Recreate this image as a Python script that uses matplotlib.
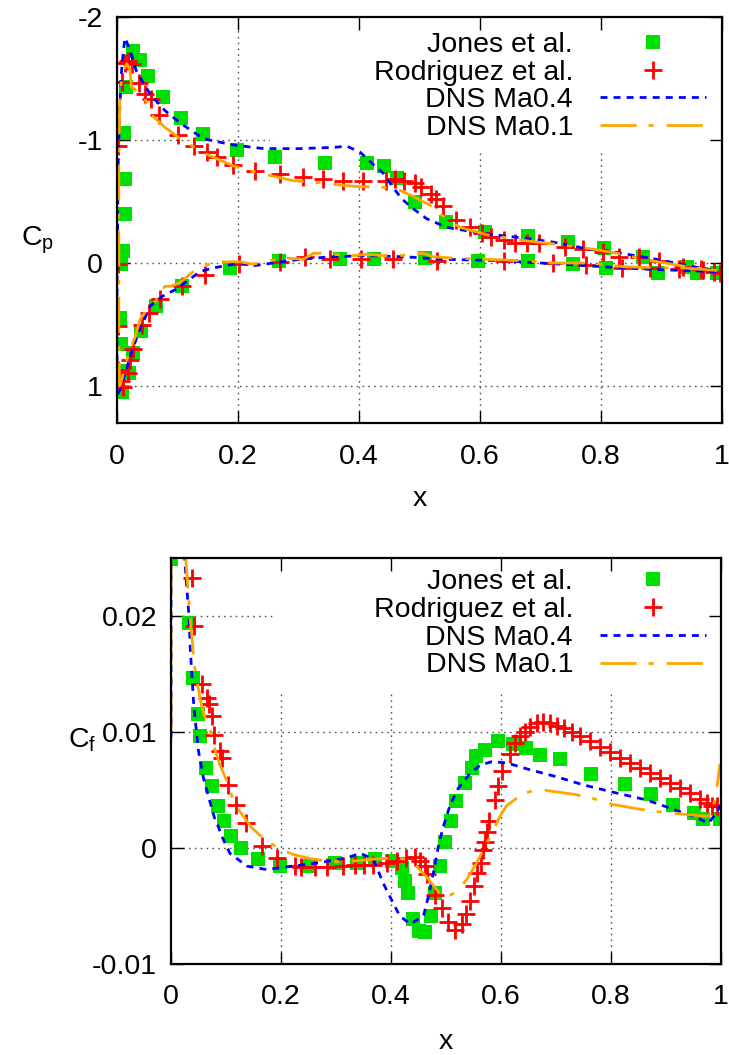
import matplotlib
matplotlib.use('Agg')
import matplotlib.pyplot as plt
from matplotlib.patches import Rectangle

plt.rcParams['font.family'] = ['Liberation Sans', 'DejaVu Sans']
plt.rcParams['mathtext.default'] = 'regular'
plt.rcParams['axes.unicode_minus'] = False

# ---------------- pressure coefficient ----------------
jones_cp_x = [0.013, 0.012, 0.015, 0.026, 0.038, 0.052, 0.076, 0.105, 0.142, 0.198, 0.261, 0.343,
              0.414, 0.441, 0.462, 0.493, 0.543, 0.608, 0.680, 0.746, 0.805, 0.870, 0.942, 0.991,
              0.013, 0.010, 0.006, 0.005, 0.006, 0.005, 0.008,
              0.020, 0.027, 0.039, 0.064, 0.107, 0.187, 0.268, 0.369, 0.424, 0.509, 0.597, 0.679,
              0.753, 0.809, 0.894, 0.958, 0.995]
jones_cp = [-0.68, -1.06, -1.43, -1.72, -1.65, -1.52, -1.35, -1.18, -1.05, -0.92, -0.86, -0.81,
            -0.81, -0.79, -0.69, -0.50, -0.33, -0.25, -0.22, -0.17, -0.12, -0.05, 0.03, 0.08,
            -0.40, -0.10, 0.01, 0.45, 0.66, 0.88, 1.05,
            0.89, 0.73, 0.55, 0.35, 0.19, 0.04, -0.02, -0.03, -0.03, -0.04, -0.02, -0.02,
            0.01, 0.04, 0.08, 0.08, 0.08]

rodr_cp_x = [0.002, 0.008, 0.013, 0.019, 0.024, 0.036, 0.046, 0.056, 0.070, 0.100, 0.128, 0.148,
             0.165, 0.192, 0.228, 0.269, 0.307, 0.341, 0.374, 0.407, 0.444, 0.460, 0.474, 0.493,
             0.503, 0.519, 0.528, 0.539, 0.561, 0.583, 0.603, 0.619, 0.639, 0.658, 0.677, 0.698,
             0.740, 0.771, 0.804, 0.830, 0.862, 0.896, 0.936, 0.966, 0.986, 0.997,
             0.002, 0.002, 0.002, 0.006, 0.010, 0.019, 0.021, 0.027, 0.042, 0.053, 0.071, 0.107,
             0.145, 0.202, 0.269, 0.311, 0.352, 0.404, 0.456, 0.529, 0.639, 0.720, 0.776, 0.834,
             0.881, 0.929, 0.969]
rodr_cp = [-0.95, -1.47, -1.63, -1.64, -1.62, -1.46, -1.37, -1.33, -1.20, -1.04, -0.95, -0.90,
           -0.86, -0.80, -0.75, -0.72, -0.70, -0.68, -0.67, -0.67, -0.67, -0.68, -0.67, -0.65,
           -0.62, -0.56, -0.52, -0.46, -0.35, -0.29, -0.24, -0.21, -0.19, -0.16, -0.16, -0.16,
           -0.13, -0.11, -0.09, -0.05, -0.05, -0.02, 0.03, 0.05, 0.07, 0.08,
           0.01, 0.51, 0.87, 0.96, 1.01, 0.89, 0.79, 0.70, 0.50, 0.41, 0.29, 0.19,
           0.10, 0.01, -0.01, -0.05, -0.03, -0.03, -0.03, -0.02, -0.02, 0.00, 0.02, 0.04,
           0.04, 0.05, 0.06]

# DNS curves: lower surface from trailing edge to leading edge, then upper surface
dns04_cp_x = [0.991, 0.931, 0.876, 0.837, 0.771, 0.700, 0.633, 0.539, 0.479, 0.413, 0.352, 0.302,
              0.258, 0.228, 0.203, 0.159, 0.137, 0.099, 0.075, 0.055, 0.035, 0.024, 0.012, 0.005,
              0.002, 0.000, 0.000, 0.001, 0.002, 0.004, 0.008, 0.013,
              0.020, 0.032, 0.055, 0.079, 0.104, 0.143, 0.192, 0.242, 0.302, 0.358, 0.380, 0.402,
              0.424, 0.440, 0.457, 0.471, 0.490, 0.512, 0.545, 0.605, 0.677, 0.721, 0.782, 0.809,
              0.892, 0.953, 0.991]
dns04_cp = [0.07, 0.06, 0.05, 0.04, 0.02, 0.00, -0.02, -0.03, -0.05, -0.06, -0.05, -0.03,
            0.00, 0.02, 0.00, 0.04, 0.07, 0.21, 0.27, 0.35, 0.57, 0.73, 0.92, 1.03,
            1.06, 0.90, 0.30, -0.30, -0.80, -1.20, -1.60, -1.83,
            -1.75, -1.56, -1.37, -1.24, -1.14, -1.01, -0.96, -0.93, -0.93, -0.94, -0.95, -0.90,
            -0.80, -0.73, -0.61, -0.52, -0.44, -0.36, -0.29, -0.24, -0.20, -0.17, -0.11, -0.10,
            -0.03, 0.03, 0.06]

dns01_cp_x = [0.991, 0.936, 0.903, 0.837, 0.782, 0.721, 0.666, 0.611, 0.556, 0.523, 0.506, 0.468,
              0.440, 0.413, 0.391, 0.358, 0.336, 0.325, 0.308, 0.281, 0.253, 0.225, 0.203, 0.176,
              0.143, 0.123, 0.104, 0.088, 0.079, 0.060, 0.043, 0.038, 0.030, 0.021, 0.013, 0.008,
              0.004, 0.003, 0.003, 0.003, 0.005, 0.010, 0.016, 0.021, 0.024,
              0.032, 0.043, 0.052, 0.060, 0.080, 0.110, 0.150, 0.192, 0.236, 0.291, 0.340, 0.377,
              0.402, 0.435, 0.468, 0.490, 0.517, 0.539, 0.567, 0.611, 0.677, 0.732, 0.765, 0.826,
              0.870, 0.942, 0.991]
dns01_cp = [0.06, 0.04, 0.04, 0.03, 0.00, 0.00, -0.02, -0.03, -0.04, -0.05, -0.08, -0.06,
            -0.06, -0.07, -0.06, -0.07, -0.08, -0.08, -0.03, -0.04, -0.02, 0.01, -0.01, -0.01,
            0.02, 0.08, 0.16, 0.19, 0.19, 0.34, 0.42, 0.46, 0.60, 0.71, 0.84, 0.95,
            1.00, 0.50, -0.20, -0.86, -1.40, -1.56, -1.62, -1.58, -1.43,
            -1.40, -1.36, -1.28, -1.19, -1.10, -0.99, -0.88, -0.79, -0.73, -0.67, -0.65, -0.63,
            -0.62, -0.62, -0.59, -0.54, -0.47, -0.38, -0.29, -0.23, -0.18, -0.15, -0.13, -0.08,
            -0.03, 0.03, 0.06]

# ---------------- skin friction coefficient ----------------
jones_cf_x = [0.000, 0.032, 0.040, 0.049, 0.053, 0.064, 0.074, 0.085, 0.097, 0.109, 0.127, 0.159,
              0.199, 0.247, 0.298, 0.338, 0.371, 0.401, 0.420, 0.425, 0.431, 0.440, 0.451, 0.462,
              0.472, 0.480, 0.489, 0.498, 0.509, 0.518, 0.535, 0.547, 0.555, 0.571, 0.595, 0.622,
              0.645, 0.671, 0.708, 0.763, 0.825, 0.872, 0.913, 0.950, 0.968, 0.998]
jones_cf = [0.0249, 0.0194, 0.0146, 0.0115, 0.0096, 0.0069, 0.0053, 0.0036, 0.0023, 0.0010, 0.0000, -0.0010,
            -0.0016, -0.0016, -0.0013, -0.0013, -0.0010, -0.0012, -0.0018, -0.0029, -0.0039, -0.0062, -0.0072, -0.0073,
            -0.0059, -0.0039, -0.0016, 0.0005, 0.0023, 0.0040, 0.0056, 0.0069, 0.0079, 0.0084, 0.0092, 0.0089,
            0.0086, 0.0080, 0.0076, 0.0063, 0.0055, 0.0046, 0.0037, 0.0030, 0.0025, 0.0025]

rodr_cf_x = [0.039, 0.042, 0.057, 0.065, 0.069, 0.074, 0.079, 0.089, 0.092, 0.104, 0.119, 0.136,
             0.165, 0.192, 0.225, 0.237, 0.262, 0.283, 0.313, 0.335, 0.350, 0.368, 0.392, 0.410,
             0.428, 0.443, 0.452, 0.462, 0.465, 0.480, 0.492, 0.503, 0.516, 0.529, 0.537, 0.544,
             0.551, 0.556, 0.563, 0.567, 0.571, 0.574, 0.578, 0.589, 0.595, 0.601, 0.616, 0.625,
             0.635, 0.644, 0.653, 0.665, 0.677, 0.689, 0.701, 0.714, 0.729, 0.744, 0.762, 0.780,
             0.798, 0.816, 0.835, 0.853, 0.871, 0.889, 0.907, 0.925, 0.944, 0.962, 0.974, 0.983,
             0.992, 1.000]
rodr_cf = [0.0232, 0.0191, 0.0141, 0.0129, 0.0124, 0.0113, 0.0097, 0.0083, 0.0077, 0.0054, 0.0037, 0.0021,
           0.0001, -0.0009, -0.0016, -0.0017, -0.0017, -0.0017, -0.0016, -0.0015, -0.0015, -0.0015, -0.0013, -0.0012,
           -0.0009, -0.0008, -0.0012, -0.0016, -0.0023, -0.0041, -0.0052, -0.0064, -0.0071, -0.0066, -0.0057, -0.0046,
           -0.0033, -0.0022, -0.0013, -0.0002, 0.0005, 0.0013, 0.0023, 0.0041, 0.0053, 0.0066, 0.0081, 0.0090,
           0.0096, 0.0100, 0.0104, 0.0107, 0.0108, 0.0107, 0.0105, 0.0103, 0.0100, 0.0096, 0.0092, 0.0087,
           0.0082, 0.0077, 0.0073, 0.0069, 0.0064, 0.0060, 0.0056, 0.0051, 0.0047, 0.0042, 0.0038, 0.0036,
           0.0036, 0.0037]

dns04_cf_x = [0.000, 0.000, 0.012, 0.025, 0.029, 0.033, 0.035, 0.038, 0.041, 0.044, 0.050, 0.059,
              0.071, 0.080, 0.086, 0.092, 0.107, 0.138, 0.174, 0.222, 0.271, 0.319, 0.344, 0.368,
              0.386, 0.404, 0.416, 0.435, 0.459, 0.468, 0.477, 0.486, 0.495, 0.507, 0.522, 0.529,
              0.544, 0.562, 0.583, 0.610, 0.653, 0.701, 0.750, 0.810, 0.865, 0.913, 0.950, 0.977,
              0.992, 0.998]
dns04_cf = [0.0095, 0.0300, 0.0320, 0.0248, 0.0222, 0.0197, 0.0171, 0.0148, 0.0125, 0.0110, 0.0083, 0.0060,
            0.0039, 0.0024, 0.0018, 0.0010, -0.0005, -0.0016, -0.0019, -0.0016, -0.0013, -0.0009, -0.0005, -0.0010,
            -0.0031, -0.0048, -0.0059, -0.0066, -0.0059, -0.0042, -0.0022, 0.0001, 0.0018, 0.0036, 0.0051, 0.0055,
            0.0064, 0.0071, 0.0074, 0.0073, 0.0067, 0.0061, 0.0054, 0.0047, 0.0041, 0.0033, 0.0027, 0.0021,
            0.0030, 0.0036]

dns01_cf_x = [0.000, 0.000, 0.015, 0.027, 0.030, 0.035, 0.039, 0.042, 0.053, 0.061, 0.071, 0.079,
              0.089, 0.101, 0.111, 0.125, 0.147, 0.163, 0.180, 0.198, 0.222, 0.240, 0.259, 0.295,
              0.325, 0.368, 0.404, 0.428, 0.446, 0.464, 0.486, 0.501, 0.519, 0.537, 0.556, 0.571,
              0.586, 0.598, 0.610, 0.641, 0.671, 0.701, 0.731, 0.762, 0.804, 0.853, 0.901, 0.950,
              0.974, 0.983, 0.992, 0.998]
dns01_cf = [0.0102, 0.0300, 0.0320, 0.0248, 0.0228, 0.0197, 0.0176, 0.0158, 0.0128, 0.0113, 0.0102, 0.0086,
            0.0071, 0.0058, 0.0044, 0.0031, 0.0017, 0.0010, 0.0004, -0.0001, -0.0006, -0.0008, -0.0010, -0.0012,
            -0.0012, -0.0010, -0.0009, -0.0010, -0.0016, -0.0025, -0.0038, -0.0043, -0.0038, -0.0028, -0.0013, 0.0001,
            0.0015, 0.0027, 0.0036, 0.0047, 0.0050, 0.0048, 0.0046, 0.0043, 0.0037, 0.0033, 0.0030, 0.0028,
            0.0027, 0.0028, 0.0050, 0.0072]

labels = ['Jones et al.', 'Rodriguez et al.', 'DNS Ma0.4', 'DNS Ma0.1']
x_ticks = [0, 0.2, 0.4, 0.6, 0.8, 1]
x_ticklabels = ['0', '0.2', '0.4', '0.6', '0.8', '1']
cp_ticks = [-2, -1, 0, 1]
cp_ticklabels = ['-2', '-1', '0', '1']
cf_ticks = [-0.01, 0, 0.01, 0.02]
cf_ticklabels = ['-0.01', '0', '0.01', '0.02']

FS = 20.5
fig = plt.figure(figsize=(7.29, 10.55), dpi=100)
ax1 = fig.add_axes([0.1605, 0.5991, 0.8299, 0.3848])
ax2 = fig.add_axes([0.2346, 0.0867, 0.7545, 0.3848])


def draw(ax, jx, jy, rx, ry, bx, by, ox, oy):
    ax.plot(jx, jy, ls='none', marker='s', ms=10, mew=0, color='#00e000', label=labels[0], zorder=2)
    ax.plot(rx, ry, ls='none', marker='+', ms=13, mew=2.0, color='#ff0000', label=labels[1], zorder=2.1)
    ax.plot(bx, by, color='#0000ff', lw=2.0, dashes=(2.5, 2.2), label=labels[2], zorder=2.2)
    ax.plot(ox, oy, color='#ffa500', lw=2.0, dashes=(13, 4.3, 1.8, 4.7), label=labels[3], zorder=2.3)


def frame(ax, yticks, yticklabels, mask_x0):
    ax.set_xlim(0, 1)
    ax.set_xticks(x_ticks)
    ax.set_xticklabels(x_ticklabels)
    ax.set_yticks(yticks)
    ax.set_yticklabels(yticklabels)
    lo, hi = sorted(ax.get_ylim())
    for t in x_ticks:
        if 0 < t < 1:
            ax.axvline(t, color='#555555', lw=1.0, ls=(0, (1.2, 3)), zorder=0.2)
    for t in yticks:
        if lo < t < hi:
            ax.axhline(t, color='#555555', lw=1.0, ls=(0, (1.2, 3)), zorder=0.2)
    # opaque key area hides the grid
    ax.add_patch(Rectangle((mask_x0, 0.670), 1 - mask_x0, 0.33, transform=ax.transAxes,
                           facecolor='white', edgecolor='none', zorder=0.3))
    ax.tick_params(direction='in', length=9, width=1, top=True, right=True, labelsize=FS)
    ax.tick_params(axis='x', pad=15)
    ax.tick_params(axis='y', pad=10)
    for s in ax.spines.values():
        s.set_linewidth(1.6)
    ax.set_xlabel('x', fontsize=FS)


draw(ax1, jones_cp_x, jones_cp, rodr_cp_x, rodr_cp, dns04_cp_x, dns04_cp, dns01_cp_x, dns01_cp)
ax1.set_ylim(1.3, -2)
frame(ax1, cp_ticks, cp_ticklabels, 0.253)
ax1.set_ylabel('C$_{\\mathregular{p}}$', fontsize=FS, rotation=0, ha='center', va='center')
ax1.yaxis.set_label_coords(-0.131, 0.45)
ax1.xaxis.set_label_coords(0.5, -0.155)

draw(ax2, jones_cf_x, jones_cf, rodr_cf_x, rodr_cf, dns04_cf_x, dns04_cf, dns01_cf_x, dns01_cf)
ax2.set_ylim(-0.01, 0.025)
frame(ax2, cf_ticks, cf_ticklabels, 0.189)
ax2.set_ylabel('C$_{\\mathregular{f}}$', fontsize=FS, rotation=0, ha='center', va='center')
ax2.yaxis.set_label_coords(-0.162, 0.55)
ax2.xaxis.set_label_coords(0.5, -0.161)

for ax, anchor in [(ax1, (0.983, 0.977)), (ax2, (0.983, 0.985))]:
    ax.legend(loc='upper right', bbox_to_anchor=anchor, frameon=False, markerfirst=False,
              numpoints=1, fontsize=FS, handlelength=3.72, handletextpad=0.95,
              labelspacing=0.06, borderpad=0.2, borderaxespad=0)

fig.savefig('out.png', dpi=100)
